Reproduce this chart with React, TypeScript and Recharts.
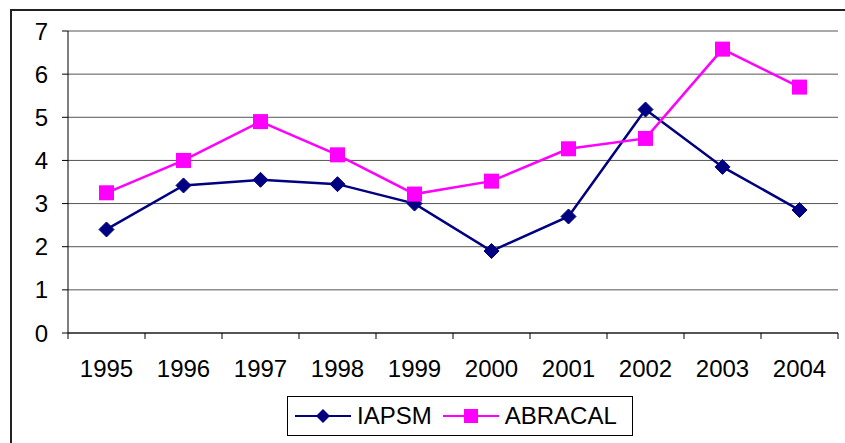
import React from 'react';
import { LineChart, Line, XAxis, YAxis, CartesianGrid } from 'recharts';

const years = ['1995', '1996', '1997', '1998', '1999', '2000', '2001', '2002', '2003', '2004'];
const iapsm = [2.4, 3.42, 3.55, 3.45, 3.0, 1.9, 2.7, 5.18, 3.85, 2.85];
const abracal = [3.25, 4.0, 4.9, 4.13, 3.22, 3.52, 4.27, 4.51, 6.58, 5.7];
const yTicks = [0, 1, 2, 3, 4, 5, 6, 7];
const boundaryTicks = [0, 1, 2, 3, 4, 5, 6, 7, 8, 9, 10];
const centerTicks = years.map((_, i) => i + 0.5);

const series = [
  { key: 'IAPSM', color: '#000080', shape: 'diamond' },
  { key: 'ABRACAL', color: '#FF00FF', shape: 'square' },
];

const data = years.map((y, i) => ({ x: i + 0.5, year: y, IAPSM: iapsm[i], ABRACAL: abracal[i] }));

const FONT = '"Liberation Sans", Arial, sans-serif';

const renderDiamond = (color: string) => (props: any) => {
  const { cx, cy, index } = props;
  if (cx == null || cy == null) return <g key={`d${index}`} />;
  const r = 7.5;
  return <path key={`d${index}`} d={`M${cx},${cy - r}L${cx + r},${cy}L${cx},${cy + r}L${cx - r},${cy}Z`} fill={color} stroke={color} strokeWidth={1} />;
};

const renderSquare = (color: string) => (props: any) => {
  const { cx, cy, index } = props;
  if (cx == null || cy == null) return <g key={`s${index}`} />;
  const h = 7.5;
  return <rect key={`s${index}`} x={cx - h} y={cy - h} width={2 * h} height={2 * h} fill={color} />;
};

export default function App() {
  return (
    <div style={{ position: 'absolute', left: 0, top: 0, width: 845, height: 443, overflow: 'hidden', background: '#fff', fontFamily: FONT }}>
      <div style={{ position: 'absolute', left: 10, top: 9, width: 900, height: 500, borderLeft: '2px solid #222', borderTop: '2px solid #222' }} />
      <div style={{ position: 'absolute', left: 0, top: 0 }}>
        <LineChart width={845} height={443} data={data} margin={{ top: 31, right: 7, left: 0, bottom: 0 }}>
          <CartesianGrid horizontal={true} vertical={false} stroke="#555" strokeWidth={1} xAxisId="b" />
          <XAxis
            xAxisId="b"
            type="number"
            dataKey="x"
            domain={[0, 10]}
            ticks={boundaryTicks}
            interval={0}
            height={1}
            axisLine={{ stroke: '#000', strokeWidth: 1 }}
            tickLine={{ stroke: '#000', strokeWidth: 1 }}
            tickSize={6}
            tickFormatter={() => ''}
          />
          <XAxis
            xAxisId="l"
            type="number"
            dataKey="x"
            domain={[0, 10]}
            ticks={centerTicks}
            axisLine={false}
            tickLine={false}
            tickSize={0}
            tickMargin={26}
            height={109}
            interval={0}
            tickFormatter={(v: number) => years[Math.floor(v)]}
            tick={{ fill: '#000', fontSize: 24, fontFamily: FONT }}
          />
          <YAxis
            type="number"
            domain={[0, 7]}
            ticks={yTicks}
            interval={0}
            width={68}
            axisLine={{ stroke: '#000', strokeWidth: 1 }}
            tickLine={{ stroke: '#000', strokeWidth: 1 }}
            tickSize={6}
            tickMargin={14}
            tick={{ fill: '#000', fontSize: 24, fontFamily: FONT }}
          />
          <Line xAxisId="b" type="linear" dataKey="IAPSM" stroke="#000080" strokeWidth={2.5} dot={renderDiamond('#000080')} activeDot={false} isAnimationActive={false} />
          <Line xAxisId="b" type="linear" dataKey="ABRACAL" stroke="#FF00FF" strokeWidth={2.5} dot={renderSquare('#FF00FF')} activeDot={false} isAnimationActive={false} />
        </LineChart>
      </div>
      <div style={{ position: 'absolute', left: 287, top: 396, width: 344, height: 38, border: '1px solid #000', boxSizing: 'content-box', display: 'flex', alignItems: 'center' }}>
        {series.map((s, i) => (
          <div key={s.key} style={{ display: 'flex', alignItems: 'center', marginLeft: i === 0 ? 7 : 11 }}>
            <svg width={56} height={20}>
              <line x1={0} y1={10} x2={56} y2={10} stroke={s.color} strokeWidth={2} />
              {s.shape === 'diamond' ? (
                <path d="M28,3L35,10L28,17L21,10Z" fill={s.color} />
              ) : (
                <rect x={21} y={3} width={14} height={14} fill={s.color} />
              )}
            </svg>
            <span style={{ fontSize: 24, marginLeft: 6, color: '#000', lineHeight: '24px' }}>{s.key}</span>
          </div>
        ))}
      </div>
    </div>
  );
}
